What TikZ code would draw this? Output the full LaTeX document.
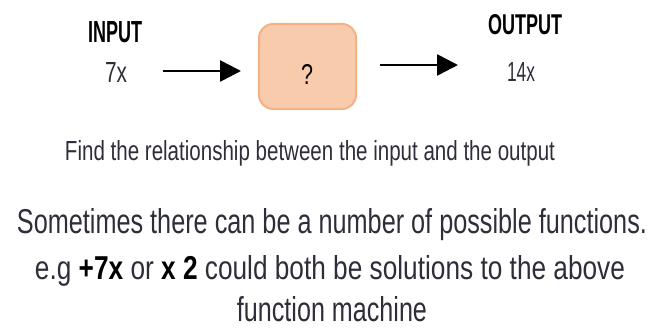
\documentclass[tikz,border=0pt]{standalone}
\usepackage{fontspec}
\setmainfont{Liberation Sans}
\usetikzlibrary{arrows.meta}
\definecolor{ink}{HTML}{2E2E3A}
\definecolor{boxfill}{HTML}{F8CBAD}
\definecolor{boxline}{HTML}{F4B183}
% squeeze a piece of text to a given width and height
\newcommand\fitto[3]{\resizebox{#1}{#2}{#3}}

\begin{document}
\begin{tikzpicture}[x=1pt,y=-1pt,
  txt/.style={inner sep=0pt, anchor=base, text=ink},
  head/.style={inner sep=0pt, anchor=base, text=black, font=\bfseries},
  flow/.style={line width=2.6pt, -{Triangle[length=21pt,width=21pt]}},
  machinebox/.style={draw=boxline, fill=boxfill, line width=2pt,
    rounded corners=14pt, minimum width=97pt, minimum height=85pt, inner sep=0pt}]
\useasboundingbox (0,0) rectangle (652,328);

% function machine
\node[machinebox] (machine) at (307.5,66.5) {};
\node[txt, text=black] (q) at (307,85) {\fitto{12pt}{20pt}{?}};

% input side
\node[head] (inlabel) at (115,43) {\fitto{54pt}{21pt}{INPUT}};
\node[txt] (invalue) at (116,83) {\fitto{22pt}{20pt}{7x}};

% output side
\node[head] (outlabel) at (525,35) {\fitto{74pt}{20pt}{OUTPUT}};
\node[txt] (outvalue) at (521,82) {\fitto{28pt}{19pt}{14x}};

% arrows
\coordinate (a1s) at (163,71);
\coordinate (a1e) at (241,71);
\coordinate (a2s) at (380,65);
\coordinate (a2e) at (458,65);
\draw[flow] (a1s) -- (a1e);
\draw[flow] (a2s) -- (a2e);

% notes
\node[txt] (task) at (310,161) {\fitto{490pt}{20pt}{Find the relationship between the input and the output}};
\node[txt] (note1) at (332,234) {\fitto{630pt}{25pt}{Sometimes there can be a number of possible functions.}};
\node[txt] (note2) at (330,279) {\fitto{590pt}{24pt}{e.g \textcolor{black}{\textbf{+7x}} or \textcolor{black}{\textbf{x 2}} could both be solutions to the above}};
\node[txt] (note3) at (332,321) {\fitto{190pt}{25pt}{function machine}};
\end{tikzpicture}
\end{document}
